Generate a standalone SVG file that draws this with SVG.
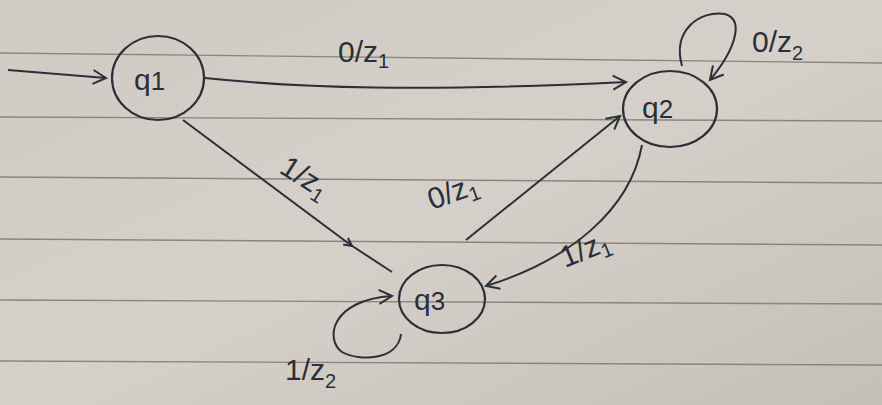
<svg xmlns="http://www.w3.org/2000/svg" width="882" height="405" viewBox="0 0 882 405">
<defs>
<linearGradient id="paper" x1="0" y1="0" x2="1" y2="1">
<stop offset="0" stop-color="#cfcbc3"/>
<stop offset="0.5" stop-color="#d5d1ca"/>
<stop offset="1" stop-color="#c4c0b7"/>
</linearGradient>
<marker id="arrL" viewBox="0 0 18 18" refX="15" refY="9" markerWidth="18" markerHeight="18" markerUnits="userSpaceOnUse" orient="auto">
<path d="M2,2 L15,9 L2,16" fill="none" stroke="#2b2f38" stroke-width="2"/>
</marker>
<marker id="arrS" viewBox="0 0 12 12" refX="10" refY="6" markerWidth="12" markerHeight="12" markerUnits="userSpaceOnUse" orient="auto">
<path d="M2,2 L10,6 L2,10" fill="none" stroke="#2b2f38" stroke-width="2"/>
</marker>
</defs>
<style>
.rule{stroke:#8a867f;stroke-width:1.4;fill:none}
.ink{stroke:#2b2f38;stroke-width:2;fill:none}
.st{stroke:#2b2f38;stroke-width:2.2;fill:none}
.lbl{font-family:"Liberation Sans",Arial,sans-serif;font-size:30px;fill:#2b2f38}
.sub{font-size:20px}
</style>
<rect x="0" y="0" width="882" height="405" fill="url(#paper)"/>
<g id="ruling">
<path class="rule" d="M0,53 L882,63"/>
<path class="rule" d="M0,117 L882,121"/>
<path class="rule" d="M0,177 L882,183"/>
<path class="rule" d="M0,239 L882,245"/>
<path class="rule" d="M0,300 L882,304"/>
<path class="rule" d="M0,361 L882,365"/>
</g>
<g id="connectors">
<path class="ink" d="M8,70 L106,78" marker-end="url(#arrL)"/>
<path class="ink" d="M205,78 C300,88 420,92 626,82" marker-end="url(#arrL)"/>
<path class="ink" d="M682,66 C672,30 700,10 725,14 C745,20 735,50 710,80" marker-end="url(#arrL)"/>
<path class="ink" d="M183,120 L352,246" marker-end="url(#arrS)"/>
<path class="ink" d="M350,244.5 L392,272"/>
<path class="ink" d="M466,240 L620,116" marker-end="url(#arrL)"/>
<path class="ink" d="M642,145 C630,210 570,260 486,286" marker-end="url(#arrL)"/>
<path class="ink" d="M401,334 C398,360 360,362 342,352 C325,340 330,300 392,296" marker-end="url(#arrL)"/>
</g>
<g id="q1">
<ellipse class="st" cx="158" cy="78" rx="46" ry="42"/>
<text class="lbl" x="134" y="90">q<tspan font-size="26">1</tspan></text>
</g>
<g id="q2">
<ellipse class="st" cx="670" cy="109" rx="47" ry="38"/>
<text class="lbl" x="642" y="118">q<tspan font-size="26">2</tspan></text>
</g>
<g id="q3">
<ellipse class="st" cx="442" cy="299" rx="43" ry="34"/>
<text class="lbl" x="414" y="310">q<tspan font-size="26">3</tspan></text>
</g>
<g id="labels">
<text class="lbl" x="338" y="62">0/z<tspan class="sub" dy="6">1</tspan></text>
<text class="lbl" x="752" y="52">0/z<tspan class="sub" dy="8">2</tspan></text>
<text class="lbl" transform="translate(278,172) rotate(32)">1/z<tspan class="sub" dy="6">1</tspan></text>
<text class="lbl" transform="translate(432,210) rotate(-20)">0/z<tspan class="sub" dy="6">1</tspan></text>
<text class="lbl" transform="translate(565,268) rotate(-22)">1/z<tspan class="sub" dy="6">1</tspan></text>
<text class="lbl" x="285" y="380">1/z<tspan class="sub" dy="8">2</tspan></text>
</g>
</svg>
